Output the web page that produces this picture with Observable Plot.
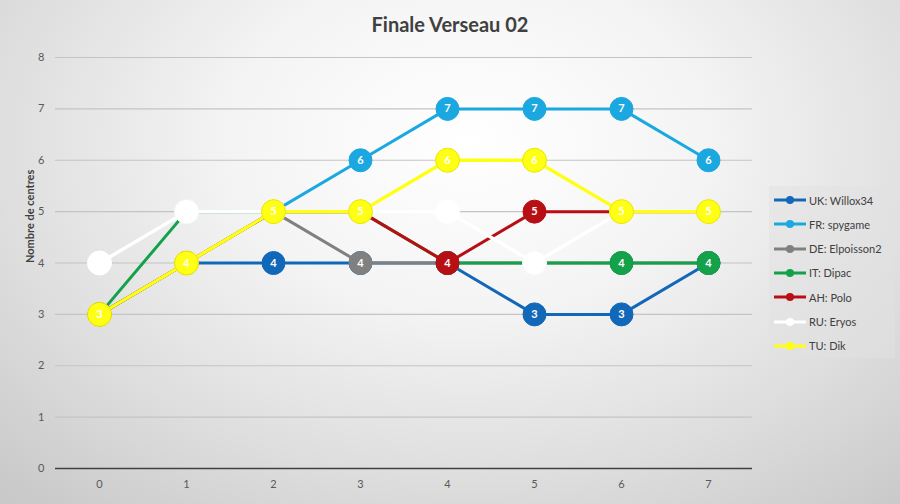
<!DOCTYPE html>
<html>
<head>
<meta charset="utf-8">
<script src="https://cdn.jsdelivr.net/npm/d3@7"></script>
<script src="https://cdn.jsdelivr.net/npm/@observablehq/plot@0.6"></script>
<style>
  html, body { margin: 0; padding: 0; }
  body { width: 900px; height: 504px; overflow: hidden; font-family: Lato, "Open Sans", sans-serif; }
  #wrap { position: relative; width: 900px; height: 504px;
    background: radial-gradient(ellipse 75% 95% at 52% 28%, #ffffff 0%, #f4f4f4 35%, #dedede 70%, #c9c9c9 100%); }
  #title { position: absolute; left: 0; width: 900px; top: 12px; text-align: center;
    font-size: 20px; font-weight: 700; color: #404040; }
  #chart { position: absolute; left: 0; top: 0; }
  #legend { position: absolute; left: 769px; top: 186px; width: 126px; height: 172px;
    background: rgba(225,225,225,0.5); }
  .item { position: absolute; left: 4px; height: 16px; display: flex; align-items: center;
    font-size: 11px; color: #404040; }
  .item svg { margin-right: 2px; }
</style>
</head>
<body>
<div id="wrap">
  <div id="chart"></div>
  <div id="title">Finale Verseau 02</div>
  <div id="legend"></div>
</div>
<script>
// ---- data ----
const rounds = [0, 1, 2, 3, 4, 5, 6, 7];
const seriesNames = ["UK: Willox34", "FR: spygame", "DE: Elpoisson2", "IT: Dipac", "AH: Polo", "RU: Eryos", "TU: Dik"];
const seriesColors = ["#1268b8", "#1ba8e0", "#808080", "#13a14a", "#b80f14", "#ffffff", "#ffff14"];
const ukValues = [3, 4, 4, 4, 4, 3, 3, 4];
const frValues = [3, 4, 5, 6, 7, 7, 7, 6];
const deValues = [3, 4, 5, 4, 4, 4, 4, 4];
const itValues = [3, 5, 5, 5, 4, 4, 4, 4];
const ahValues = [3, 4, 5, 5, 4, 5, 5, 5];
const ruValues = [4, 5, 5, 5, 5, 4, 5, 5];
const tuValues = [3, 4, 5, 5, 6, 6, 5, 5];
const yTicks = [0, 1, 2, 3, 4, 5, 6, 7, 8];
const yLabel = "Nombre de centres";

// ---- build ----
const allValues = [ukValues, frValues, deValues, itValues, ahValues, ruValues, tuValues];
const seriesData = allValues.map((vals, i) =>
  rounds.map((r, j) => ({ series: seriesNames[i], round: r, value: vals[j] })));

const marks = [
  Plot.ruleY(yTicks.filter(d => d > 0), { stroke: "#c4c4c4", strokeWidth: 1.2 }),
  Plot.ruleY([0], { stroke: "#404040", strokeWidth: 1.5 }),
  Plot.axisY({ ticks: yTicks, tickSize: 0, tickPadding: 11, label: null, fontSize: 11, color: "#595959" }),
  Plot.axisX({ tickSize: 0, tickPadding: 12, label: null, fontSize: 11, color: "#595959" }),
  Plot.text([yLabel], { frameAnchor: "left", dx: -25, rotate: -90, fontSize: 11, fontWeight: 700, fill: "#404040" })
];
seriesData.forEach((data, i) => {
  const c = seriesColors[i];
  const light = c === "#ffff14" || c === "#ffffff";
  const edge = c === "#ffff14" ? "#e8e800" : c;
  marks.push(Plot.line(data, { x: "round", y: "value", stroke: c, strokeWidth: light ? 3.4 : 3 }));
  marks.push(Plot.dot(data, { x: "round", y: "value", r: light ? 12 : 11.5, fill: c, stroke: edge, strokeWidth: 1 }));
  marks.push(Plot.text(data, { x: "round", y: "value", text: "value", fill: "#ffffff", fontSize: 11, fontWeight: 700 }));
});

const chart = Plot.plot({
  width: 900,
  height: 504,
  marginLeft: 55,
  marginRight: 148,
  marginTop: 57,
  marginBottom: 36,
  style: { background: "transparent", fontFamily: "Lato, 'Open Sans', sans-serif", overflow: "visible" },
  x: { type: "point", domain: rounds, padding: 0.5 },
  y: { domain: [0, 8] },
  marks
});
document.getElementById("chart").appendChild(chart);

// ---- legend ----
const legend = document.getElementById("legend");
seriesNames.forEach((name, i) => {
  const c = seriesColors[i];
  const div = document.createElement("div");
  div.className = "item";
  div.style.top = (6 + i * 24.3) + "px";
  div.innerHTML = `<svg width="34" height="10"><line x1="1" x2="33" y1="5" y2="5" stroke="${c}" stroke-width="3"/><circle cx="17" cy="5" r="4" fill="${c}"/></svg><span>${name}</span>`;
  legend.appendChild(div);
});
</script>
</body>
</html>
